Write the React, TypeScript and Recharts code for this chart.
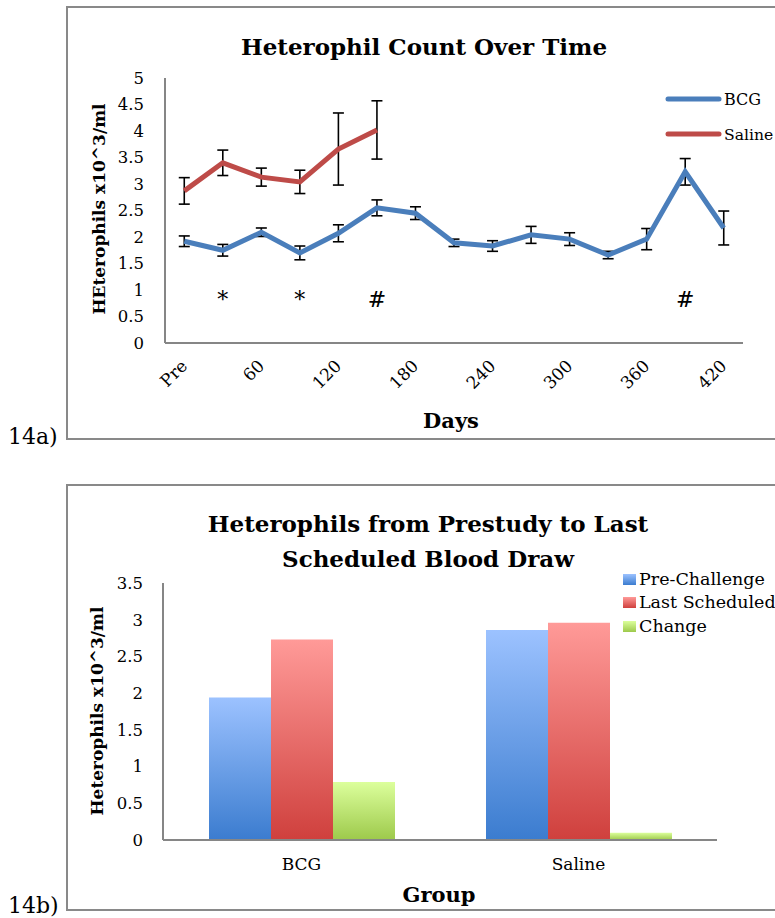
import React from 'react';
import { ComposedChart, Line, Bar, XAxis, YAxis, ErrorBar } from 'recharts';

const FONT = '"DejaVu Serif", serif';

// ---- Chart 14a data ----
const days = ['Pre', '30', '60', '90', '120', '150', '180', '210', '240', '270', '300', '330', '360', '390', '420'];
const bcgValues = [1.92, 1.75, 2.09, 1.7, 2.07, 2.55, 2.45, 1.89, 1.83, 2.04, 1.96, 1.66, 1.96, 3.23, 2.17];
const bcgErrors = [0.1, 0.11, 0.08, 0.13, 0.16, 0.15, 0.12, 0.07, 0.1, 0.16, 0.12, 0.07, 0.2, 0.25, 0.32];
const salineValues = [2.87, 3.4, 3.13, 3.04, 3.66, 4.02];
const salineErrors = [0.25, 0.24, 0.17, 0.22, 0.68, 0.55];
const markers = ['', '*', '', '*', '', '#', '', '', '', '', '', '', '', '#', ''];
const markerLevel = 0.83;
const topTicks = [0, 0.5, 1, 1.5, 2, 2.5, 3, 3.5, 4, 4.5, 5];

// ---- Chart 14b data ----
const groups = ['BCG', 'Saline'];
const preChallenge = [1.94, 2.86];
const lastScheduled = [2.73, 2.96];
const changeValues = [0.79, 0.1];
const bottomTicks = [0, 0.5, 1, 1.5, 2, 2.5, 3, 3.5];

const BCG_COLOR = '#4A7EBB';
const SALINE_COLOR = '#BE4B48';
const AXIS_COLOR = '#868686';

const lineData = days.map((d, i) => ({
  day: d,
  bcg: bcgValues[i],
  bcgErr: bcgErrors[i],
  saline: i < salineValues.length ? salineValues[i] : null,
  salineErr: i < salineErrors.length ? salineErrors[i] : null,
  markY: markers[i] ? markerLevel : null,
  mark: markers[i],
}));

const barData = groups.map((g, i) => ({
  group: g,
  pre: preChallenge[i],
  last: lastScheduled[i],
  change: changeValues[i],
}));

const RotatedTick = (props: any) => {
  const { x, y, payload } = props;
  const ax = x + 4;
  const ay = y + 24;
  return (
    <text
      x={ax}
      y={ay}
      transform={`rotate(-45 ${ax} ${ay})`}
      textAnchor="end"
      fontFamily={FONT}
      fontSize={17}
      fill="#000"
    >
      {payload.value}
    </text>
  );
};

const renderMark = (props: any) => {
  const { cx, cy, payload, index } = props;
  if (!payload || !payload.mark || cy == null || isNaN(cy)) return <g key={`m${index}`} />;
  return (
    <text key={`m${index}`} x={cx} y={cy + 8} textAnchor="middle" fontFamily={FONT} fontSize={22} fill="#000">
      {payload.mark}
    </text>
  );
};

const yLabel = (text: string, x: number, y: number) => () =>
  (
    <text
      x={x}
      y={y}
      transform={`rotate(-90 ${x} ${y})`}
      textAnchor="middle"
      fontFamily={FONT}
      fontWeight="bold"
      fontSize={17}
      fill="#000"
    >
      {text}
    </text>
  );

const tickStyle = { fontFamily: FONT, fontSize: 16.5, fill: '#000' };

const Grad = ({ id, top, bottom }: { id: string; top: string; bottom: string }) => (
  <linearGradient id={id} x1="0" y1="0" x2="0" y2="1">
    <stop offset="0%" stopColor={top} />
    <stop offset="100%" stopColor={bottom} />
  </linearGradient>
);

const PRE_G = ['#9CC2FF', '#3B7CCF'];
const LAST_G = ['#FF9A98', '#CF403D'];
const CHG_G = ['#DCFF9C', '#9DC94B'];

export default function App() {
  return (
    <div
      style={{
        position: 'absolute',
        left: 0,
        top: 0,
        width: 775,
        height: 918,
        overflow: 'hidden',
        background: '#fff',
      }}
    >
      <svg width={775} height={918} style={{ position: 'absolute', left: 0, top: 0 }}>
        <rect x={67} y={7} width={760} height={432} fill="none" stroke="#898989" strokeWidth={2} />
        <rect x={67} y={485} width={760} height={425} fill="none" stroke="#898989" strokeWidth={2} />
      </svg>

      <div style={{ position: 'absolute', left: 0, top: 0 }}>
        <ComposedChart width={775} height={440} data={lineData} margin={{ top: 78, right: 32, bottom: 47, left: 105 }}>
          <XAxis
            dataKey="day"
            scale="band"
            interval={1}
            tickLine={false}
            tickSize={0}
            tickMargin={0}
            height={50}
            axisLine={{ stroke: AXIS_COLOR, strokeWidth: 2 }}
            tick={<RotatedTick />}
          />
          <YAxis
            width={60}
            domain={[0, 5]}
            ticks={topTicks}
            interval={0}
            tickLine={false}
            tickSize={0}
            tickMargin={21}
            axisLine={{ stroke: AXIS_COLOR, strokeWidth: 2 }}
            tick={tickStyle}
            label={{ content: yLabel('HEterophils x10^3/ml', 105, 209) }}
          />
          <Line
            dataKey="bcg"
            stroke={BCG_COLOR}
            strokeWidth={5}
            dot={false}
            activeDot={false}
            type="linear"
            isAnimationActive={false}
          >
            <ErrorBar dataKey="bcgErr" width={5.5} stroke="#000" strokeWidth={1.6} direction="y" />
          </Line>
          <Line
            dataKey="saline"
            stroke={SALINE_COLOR}
            strokeWidth={5}
            dot={false}
            activeDot={false}
            type="linear"
            isAnimationActive={false}
          >
            <ErrorBar dataKey="salineErr" width={5.5} stroke="#000" strokeWidth={1.6} direction="y" />
          </Line>
          <Line
            dataKey="markY"
            stroke="none"
            dot={renderMark}
            activeDot={false}
            isAnimationActive={false}
          />
        </ComposedChart>
      </div>

      <div style={{ position: 'absolute', left: 0, top: 485 }}>
        <ComposedChart
          width={775}
          height={433}
          data={barData}
          barGap={0}
          margin={{ top: 98, right: 58, bottom: 48, left: 103 }}
        >
          <defs>
            <Grad id="barPre" top={PRE_G[0]} bottom={PRE_G[1]} />
            <Grad id="barLast" top={LAST_G[0]} bottom={LAST_G[1]} />
            <Grad id="barChg" top={CHG_G[0]} bottom={CHG_G[1]} />
          </defs>
          <XAxis
            dataKey="group"
            tickLine={false}
            tickSize={0}
            tickMargin={18}
            height={30}
            axisLine={{ stroke: AXIS_COLOR, strokeWidth: 2 }}
            tick={{ fontFamily: FONT, fontSize: 17, fill: '#000' }}
          />
          <YAxis
            width={60}
            domain={[0, 3.5]}
            ticks={bottomTicks}
            interval={0}
            tickLine={false}
            tickSize={0}
            tickMargin={20}
            axisLine={{ stroke: AXIS_COLOR, strokeWidth: 2 }}
            tick={tickStyle}
            label={{ content: yLabel('Heterophils x10^3/ml', 103, 226) }}
          />
          <Bar dataKey="pre" fill="url(#barPre)" barSize={62} isAnimationActive={false} />
          <Bar dataKey="last" fill="url(#barLast)" barSize={62} isAnimationActive={false} />
          <Bar dataKey="change" fill="url(#barChg)" barSize={62} isAnimationActive={false} />
        </ComposedChart>
      </div>

      <svg
        width={775}
        height={918}
        style={{ position: 'absolute', left: 0, top: 0, pointerEvents: 'none' }}
        fontFamily={FONT}
      >
        <defs>
          <Grad id="legPre" top={PRE_G[0]} bottom={PRE_G[1]} />
          <Grad id="legLast" top={LAST_G[0]} bottom={LAST_G[1]} />
          <Grad id="legChg" top={CHG_G[0]} bottom={CHG_G[1]} />
        </defs>
        {/* 14a texts */}
        <text x={424} y={55} textAnchor="middle" fontWeight="bold" fontSize={23}>
          Heterophil Count Over Time
        </text>
        <text x={451} y={428} textAnchor="middle" fontWeight="bold" fontSize={21}>
          Days
        </text>
        <text x={8} y={444} fontSize={22}>
          14a)
        </text>
        <line x1={668} y1={99} x2={719} y2={99} stroke={BCG_COLOR} strokeWidth={5} strokeLinecap="round" />
        <text x={724} y={105} fontSize={16}>
          BCG
        </text>
        <line x1={668} y1={134} x2={719} y2={134} stroke={SALINE_COLOR} strokeWidth={5} strokeLinecap="round" />
        <text x={724} y={140} fontSize={15.6}>
          Saline
        </text>

        {/* 14b texts */}
        <text x={428} y={532} textAnchor="middle" fontWeight="bold" fontSize={23}>
          Heterophils from Prestudy to Last
        </text>
        <text x={428} y={567} textAnchor="middle" fontWeight="bold" fontSize={23}>
          Scheduled Blood Draw
        </text>
        <text x={439} y={902} textAnchor="middle" fontWeight="bold" fontSize={21}>
          Group
        </text>
        <text x={8} y={913} fontSize={22}>
          14b)
        </text>
        <rect x={623} y={574} width={13} height={11} fill="url(#legPre)" />
        <text x={639} y={585} fontSize={17.5}>
          Pre-Challenge
        </text>
        <rect x={623} y={597} width={13} height={11} fill="url(#legLast)" />
        <text x={639} y={608} fontSize={17.5}>
          Last Scheduled
        </text>
        <rect x={623} y={621} width={13} height={11} fill="url(#legChg)" />
        <text x={639} y={632} fontSize={17.5}>
          Change
        </text>
      </svg>
    </div>
  );
}
